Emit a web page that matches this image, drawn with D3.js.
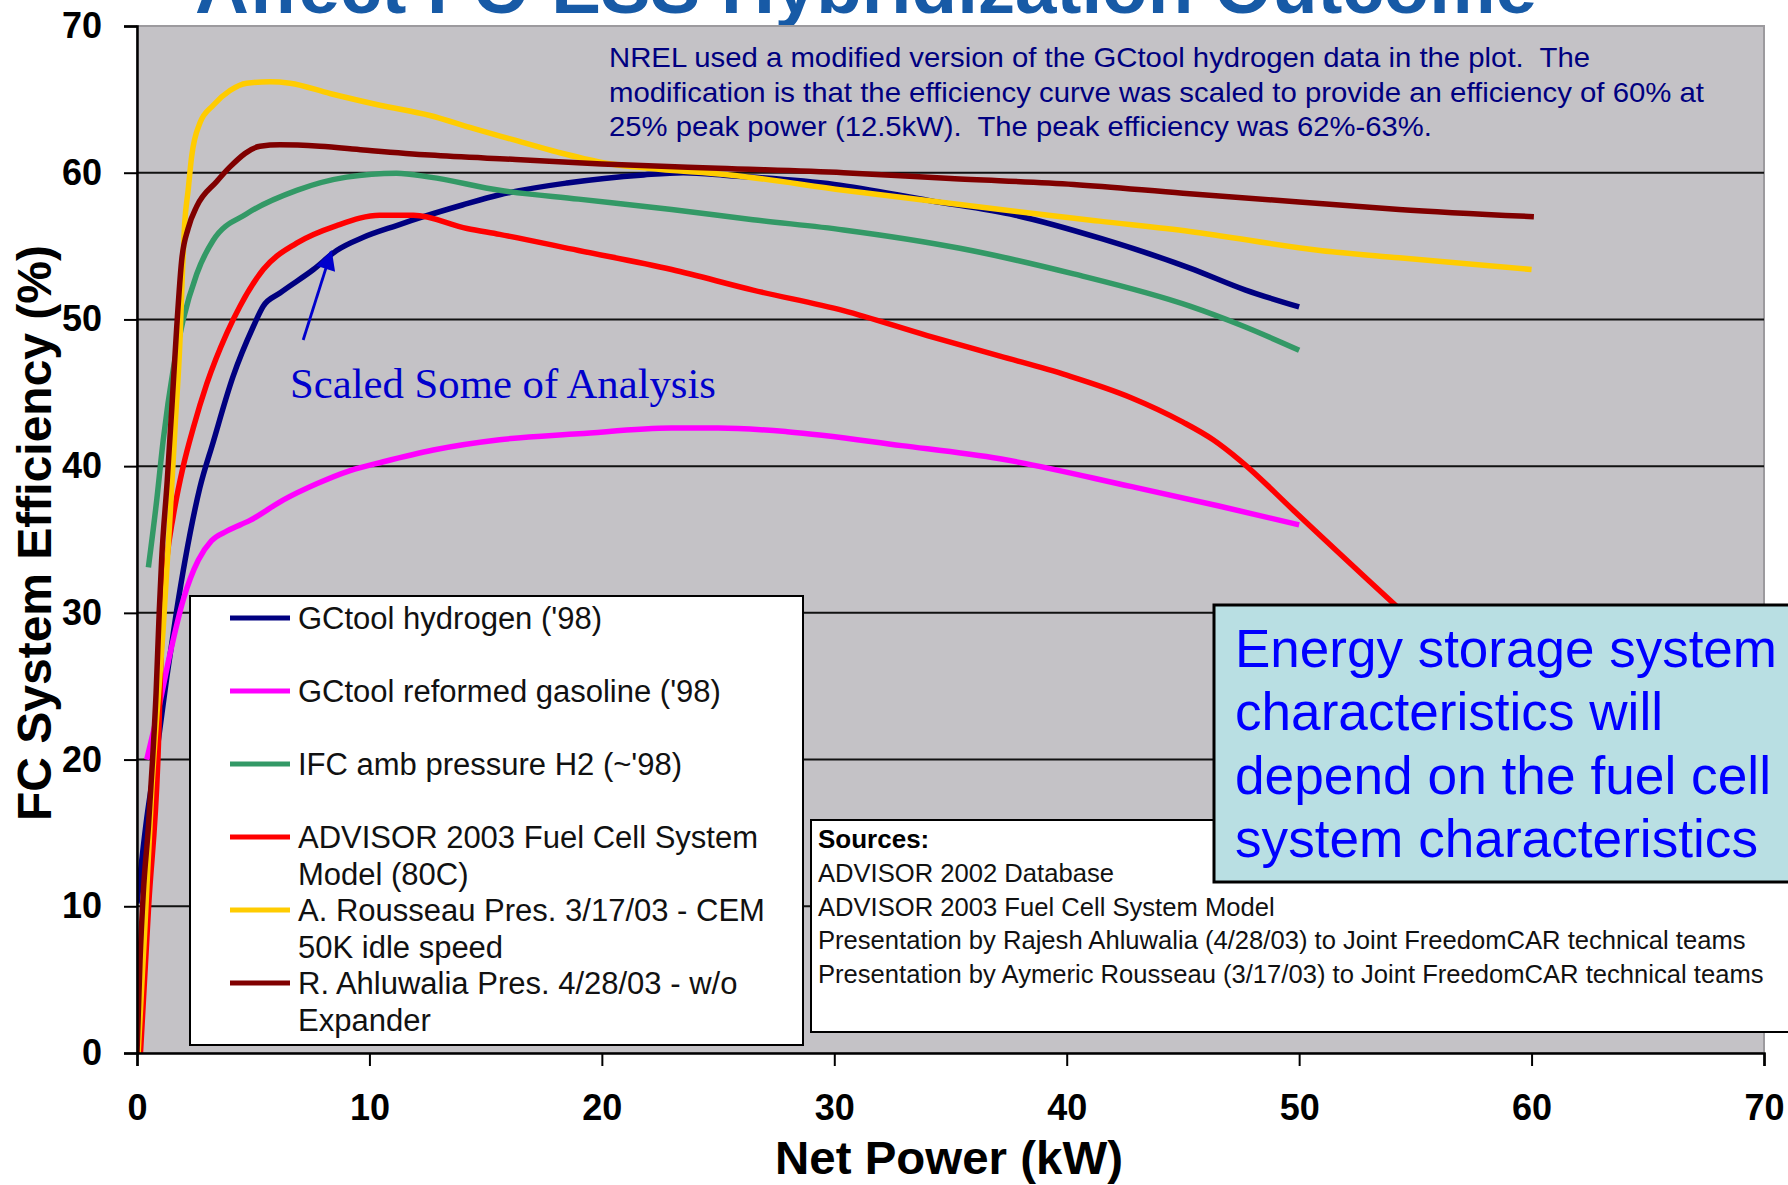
<!DOCTYPE html>
<html>
<head>
<meta charset="utf-8">
<script src="https://cdn.jsdelivr.net/npm/d3@7"></script>
<style>
  html, body { margin: 0; padding: 0; background: #ffffff; }
  svg { display: block; }
  text { white-space: pre; }
</style>
</head>
<body>
<svg id="chart" width="1788" height="1185"></svg>
<script>
// Fuel cell system efficiency (%) versus net power (kW), one array per source.
const gcHydrogen = [
  [0, 10.2], [0.42, 16], [0.85, 20.5], [1.28, 25.6], [1.71, 30.2], [2.07, 33.6], [2.7, 38.5],
  [3.27, 41.6], [4.13, 46.1], [5.0, 49.5], [5.43, 50.9], [6.15, 51.8], [7.59, 53.4], [8.59, 54.7],
  [9.74, 55.6], [11.17, 56.4], [12.32, 57.0], [14, 57.8], [15.6, 58.5], [18.5, 59.3], [21.8, 59.85],
  [23.5, 60], [25.5, 59.8], [30, 59.2], [34.1, 58.1], [37.8, 57.1], [41.5, 55.5], [45.3, 53.5],
  [47.7, 52.0], [50, 50.85]
];
const gcGasoline = [
  [0.42, 20], [0.92, 23.4], [1.42, 27.2], [1.99, 30.9], [2.64, 33.6], [3.2, 34.9], [3.9, 35.6],
  [4.86, 36.3], [6.3, 37.7], [7.73, 38.8], [9.17, 39.7], [10.6, 40.3], [12.75, 41.1], [15.6, 41.8],
  [19, 42.2], [23, 42.6], [25, 42.6], [27.97, 42.35], [32.9, 41.4], [37.13, 40.5], [42.8, 38.6],
  [46.5, 37.3], [50, 36.0]
];
const ifcAmbient = [
  [0.49, 33.1], [0.85, 37.7], [1.13, 41.8], [1.56, 46.6], [1.99, 50], [2.57, 53.1], [3.28, 55.4],
  [4.72, 57.2], [6.87, 58.8], [9.02, 59.7], [11.17, 59.96], [12.6, 59.7], [15.6, 58.8], [19, 58.2],
  [23, 57.5], [26.5, 56.8], [30.4, 56.1], [35.4, 54.85], [40.3, 53.1], [45.3, 50.9], [47.5, 49.6],
  [50, 47.9]
];
const advisor2003 = [
  [0.15, 0], [0.5, 10], [0.9, 20], [1.1, 30], [1.28, 33.6], [1.56, 36.6], [1.99, 40.0], [2.42, 42.6],
  [3.0, 45.6], [3.86, 49.05], [4.43, 50.9], [5.43, 53.4], [6.87, 55.2], [8.59, 56.4], [10.45, 57.1],
  [11.89, 57.1], [14.2, 56.2], [15.6, 55.8], [19, 54.7], [23, 53.4], [26.5, 52.0], [30.4, 50.6],
  [34, 48.9], [37.13, 47.5], [40.0, 46.2], [42.72, 44.7], [45.0, 43.0], [46.3, 41.8], [47.45, 40.4],
  [49.75, 37.0], [51.9, 33.8], [54.05, 30.65], [56.5, 27]
];
const rousseauCem = [
  [0.05, 0], [0.34, 8.6], [0.63, 17.7], [1.13, 29], [1.4, 36], [1.65, 43], [1.85, 48.6], [1.95, 53],
  [2.05, 56.5], [2.2, 58.8], [2.35, 61.1], [2.71, 63.4], [3.28, 64.6], [4.0, 65.6], [4.72, 66.1],
  [5.72, 66.2], [6.58, 66.1], [8.3, 65.4], [10.45, 64.6], [12.6, 63.9], [14.5, 63.0], [16.3, 62.2],
  [18.1, 61.4], [20, 60.7], [22, 60.3], [25.5, 59.85], [30.4, 58.8], [37.85, 57.35], [41.4, 56.7],
  [45.3, 56.0], [50.9, 54.7], [54.3, 54.2], [60, 53.4]
];
const ahluwaliaNoExpander = [
  [0, 0], [0.13, 6.3], [0.27, 10.9], [0.49, 15.4], [0.67, 20], [0.82, 24.5], [0.96, 30.2],
  [1.06, 33.6], [1.3, 39], [1.5, 44], [1.71, 49.5], [1.92, 54], [2.2, 56.2], [2.57, 57.7],
  [3.43, 59.4], [4.0, 60.4], [5.29, 61.8], [6.15, 61.9], [7.87, 61.8], [9.74, 61.55], [12.6, 61.2],
  [16.3, 60.9], [20, 60.6], [25, 60.3], [30.4, 60.0], [35, 59.6], [40.3, 59.2], [45, 58.6],
  [50, 58.0], [54.3, 57.5], [60.1, 57.0]
];

const seriesData = [gcHydrogen, gcGasoline, ifcAmbient, advisor2003, rousseauCem, ahluwaliaNoExpander];
const seriesColors = ["#000080", "#ff00ff", "#339966", "#ff0000", "#ffcc00", "#800000"];
const legendLabels = [
  ["GCtool hydrogen ('98)"],
  ["GCtool reformed gasoline ('98)"],
  ["IFC amb pressure H2 (~'98)"],
  ["ADVISOR 2003 Fuel Cell System", "Model (80C)"],
  ["A. Rousseau Pres. 3/17/03 - CEM", "50K idle speed"],
  ["R. Ahluwalia Pres. 4/28/03 - w/o", "Expander"]
];
const xTicks = [0, 10, 20, 30, 40, 50, 60, 70];
const yTicks = [0, 10, 20, 30, 40, 50, 60, 70];
const gridValues = [10, 20, 30, 40, 50, 60];

const titleText = "Affect FC-ESS Hybridization Outcome";
const noteLines = [
  "NREL used a modified version of the GCtool hydrogen data in the plot.  The",
  "modification is that the efficiency curve was scaled to provide an efficiency of 60% at",
  "25% peak power (12.5kW).  The peak efficiency was 62%-63%."
];
const sourceLines = [
  "ADVISOR 2002 Database",
  "ADVISOR 2003 Fuel Cell System Model",
  "Presentation by Rajesh Ahluwalia (4/28/03) to Joint FreedomCAR technical teams",
  "Presentation by Aymeric Rousseau (3/17/03) to Joint FreedomCAR technical teams"
];
const calloutLines = [
  "Energy storage system",
  "characteristics will",
  "depend on the fuel cell",
  "system characteristics"
];
// Arrow from the "Scaled" label to the hydrogen curve, in data units (kW, %).
const scaledArrow = { from: [7.15, 48.6], to: [8.35, 54.6] };

const SANS = "'Liberation Sans', Arial, Helvetica, sans-serif";
const SERIF = "'Liberation Serif', 'Times New Roman', serif";

const svg = d3.select("#chart");
const plot = { left: 137, right: 1764, top: 26, bottom: 1053 };

const x = d3.scaleLinear().domain([0, 70]).range([plot.left, plot.right]);
const y = d3.scaleLinear().domain([0, 70]).range([plot.bottom, plot.top]);

// Slide title, partly above the visible frame
svg.append("text")
  .attr("x", 195).attr("y", 13)
  .attr("font-family", SANS).attr("font-weight", "bold")
  .attr("font-size", 74.5).attr("fill", "#175aa6")
  .attr("textLength", 1342).attr("lengthAdjust", "spacingAndGlyphs")
  .text(titleText);

// Plot background
svg.append("rect")
  .attr("x", plot.left).attr("y", plot.top)
  .attr("width", plot.right - plot.left).attr("height", plot.bottom - plot.top)
  .attr("fill", "#c4c2c6")
  .attr("stroke", "#9c9a9e").attr("stroke-width", 2);

// Horizontal gridlines
svg.append("g").selectAll("line").data(gridValues).join("line")
  .attr("x1", plot.left).attr("x2", plot.right)
  .attr("y1", d => y(d)).attr("y2", d => y(d))
  .attr("stroke", "#111").attr("stroke-width", 2);

// Efficiency curves
svg.append("clipPath").attr("id", "plotClip").append("rect")
  .attr("x", plot.left).attr("y", plot.top)
  .attr("width", plot.right - plot.left).attr("height", plot.bottom - plot.top);

const line = d3.line().x(d => x(d[0])).y(d => y(d[1])).curve(d3.curveMonotoneX);
svg.append("g").attr("clip-path", "url(#plotClip)")
  .selectAll("path").data(seriesData).join("path")
  .attr("d", line)
  .attr("fill", "none")
  .attr("stroke", (d, i) => seriesColors[i])
  .attr("stroke-width", 5.5)
  .attr("stroke-linejoin", "round");

// Axes
const yAxis = d3.axisLeft(y).tickValues(yTicks).tickSize(13).tickPadding(22);
const yG = svg.append("g").attr("transform", `translate(${plot.left},0)`).call(yAxis);
const xAxis = d3.axisBottom(x).tickValues(xTicks).tickSize(13).tickPadding(28);
const xG = svg.append("g").attr("transform", `translate(0,${plot.bottom})`).call(xAxis);
[yG, xG].forEach(g => {
  g.select(".domain").attr("stroke", "#000").attr("stroke-width", 2.5);
  g.selectAll(".tick line").attr("stroke", "#000").attr("stroke-width", 2);
  g.selectAll(".tick text")
    .attr("font-family", SANS).attr("font-weight", "bold")
    .attr("font-size", 36).attr("fill", "#000");
});

// Axis titles
svg.append("text")
  .attr("transform", "translate(51,533) rotate(-90)")
  .attr("text-anchor", "middle")
  .attr("font-family", SANS).attr("font-weight", "bold").attr("font-size", 48)
  .attr("textLength", 576).attr("lengthAdjust", "spacingAndGlyphs")
  .text("FC System Efficiency (%)");
svg.append("text")
  .attr("x", 949).attr("y", 1174)
  .attr("text-anchor", "middle")
  .attr("font-family", SANS).attr("font-weight", "bold").attr("font-size", 46)
  .attr("textLength", 348).attr("lengthAdjust", "spacingAndGlyphs")
  .text("Net Power (kW)");

// NREL note
const noteWidths = [981, 1095, 823];
svg.append("g").selectAll("text").data(noteLines).join("text")
  .attr("x", 609).attr("y", (d, i) => 67 + i * 34.5)
  .attr("font-family", SANS).attr("font-size", 28).attr("fill", "#000080")
  .attr("textLength", (d, i) => noteWidths[i]).attr("lengthAdjust", "spacingAndGlyphs")
  .text(d => d);

// "Scaled" annotation with arrow
svg.append("defs").append("marker")
  .attr("id", "arrowHead").attr("viewBox", "0 0 10 10")
  .attr("refX", 9).attr("refY", 5)
  .attr("markerWidth", 7.5).attr("markerHeight", 7)
  .attr("markerUnits", "strokeWidth")
  .attr("orient", "auto")
  .append("path").attr("d", "M0,0 L10,5 L0,10 Z").attr("fill", "#0000cc");
svg.append("line")
  .attr("x1", x(scaledArrow.from[0])).attr("y1", y(scaledArrow.from[1]))
  .attr("x2", x(scaledArrow.to[0])).attr("y2", y(scaledArrow.to[1]))
  .attr("stroke", "#0000cc").attr("stroke-width", 2.8)
  .attr("marker-end", "url(#arrowHead)");
svg.append("text")
  .attr("x", 290).attr("y", 398)
  .attr("font-family", SERIF).attr("font-size", 42.5).attr("fill", "#0000cc")
  .attr("textLength", 426).attr("lengthAdjust", "spacingAndGlyphs")
  .text("Scaled Some of Analysis");

// Legend
const legend = svg.append("g");
legend.append("rect")
  .attr("x", 190).attr("y", 596).attr("width", 613).attr("height", 449)
  .attr("fill", "#ffffff").attr("stroke", "#000").attr("stroke-width", 2);
const rows = legend.selectAll("g.row").data(legendLabels).join("g")
  .attr("class", "row")
  .attr("transform", (d, i) => `translate(0,${618 + i * 73})`);
rows.append("line")
  .attr("x1", 230).attr("x2", 290).attr("y1", 0).attr("y2", 0)
  .attr("stroke", (d, i) => seriesColors[i]).attr("stroke-width", 5);
rows.selectAll("text").data(d => d).join("text")
  .attr("x", 298).attr("y", (d, j) => 11 + j * 37)
  .attr("font-family", SANS).attr("font-size", 31).attr("fill", "#111")
  .text(d => d);

// Sources box
const sources = svg.append("g");
sources.append("rect")
  .attr("x", 811).attr("y", 820).attr("width", 1000).attr("height", 212)
  .attr("fill", "#ffffff").attr("stroke", "#000").attr("stroke-width", 2);
sources.append("text")
  .attr("x", 818).attr("y", 848)
  .attr("font-family", SANS).attr("font-weight", "bold").attr("font-size", 26)
  .text("Sources:");
sources.selectAll("text.src").data(sourceLines).join("text")
  .attr("class", "src")
  .attr("x", 818).attr("y", (d, i) => 882 + i * 33.7)
  .attr("font-family", SANS).attr("font-size", 25.6).attr("fill", "#111")
  .text(d => d);

// Callout box
const callout = svg.append("g");
callout.append("rect")
  .attr("x", 1214).attr("y", 605).attr("width", 600).attr("height", 277)
  .attr("fill", "#b9dfe3").attr("stroke", "#000").attr("stroke-width", 3);
const calloutWidths = [542, 428, 536, 523];
callout.selectAll("text").data(calloutLines).join("text")
  .attr("x", 1235).attr("y", (d, i) => 667 + i * 63.4)
  .attr("font-family", SANS).attr("font-size", 53).attr("fill", "#0000ff")
  .attr("textLength", (d, i) => calloutWidths[i]).attr("lengthAdjust", "spacingAndGlyphs")
  .text(d => d);
</script>
</body>
</html>
